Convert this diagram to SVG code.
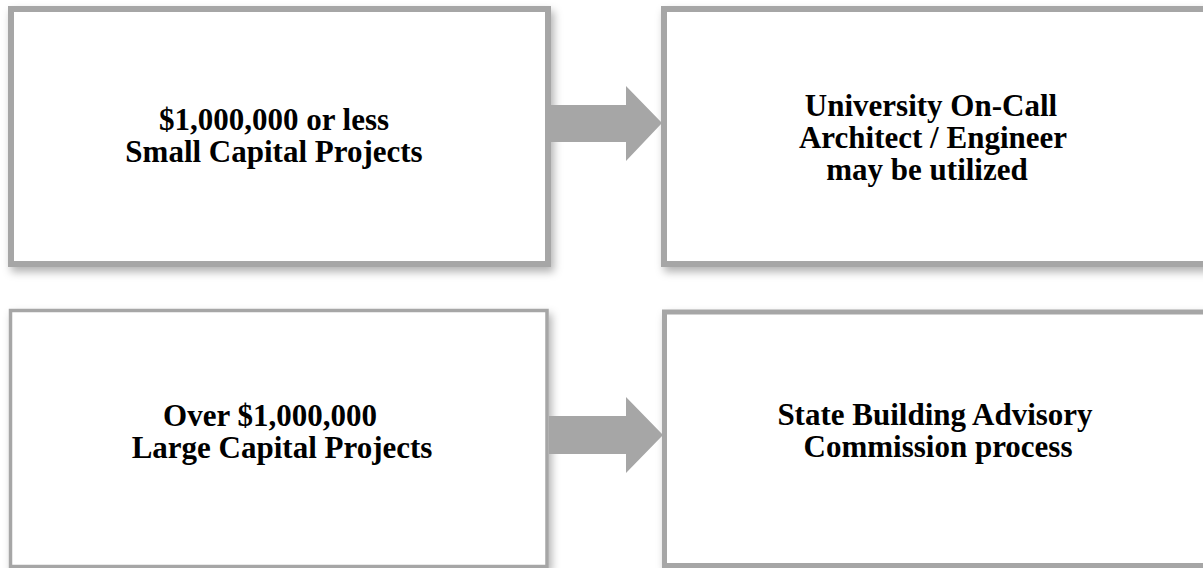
<svg xmlns="http://www.w3.org/2000/svg" width="1203" height="568" viewBox="0 0 1203 568">
<style>
.box{fill:#ffffff;stroke:#a6a6a6;filter:url(#sh)}
.t{font-family:"Liberation Serif","Times New Roman",serif;font-weight:bold;font-size:31px;fill:#000;text-anchor:middle}
.arrow{fill:#a6a6a6}
</style>
<defs>
<filter id="sh" x="-10%" y="-10%" width="125%" height="130%">
<feDropShadow dx="3" dy="5" stdDeviation="4" flood-color="#000" flood-opacity="0.3"/>
</filter>
</defs>
<rect width="1203" height="568" fill="#ffffff"/>
<g id="node-small">
<rect class="box" x="11" y="9" width="537" height="255" stroke-width="6"/>
<text class="t" x="274" y="130">$1,000,000 or less</text>
<text class="t" x="274" y="162">Small Capital Projects</text>
</g>
<g id="node-oncall">
<rect class="box" x="664" y="9" width="600" height="255" stroke-width="6"/>
<text class="t" x="931" y="116">University On-Call</text>
<text class="t" x="933" y="148">Architect / Engineer</text>
<text class="t" x="927" y="180">may be utilized</text>
</g>
<g id="node-large">
<rect class="box" x="10.5" y="310.5" width="536.5" height="256" stroke-width="3.5"/>
<text class="t" x="270" y="426">Over $1,000,000</text>
<text class="t" x="282" y="458">Large Capital Projects</text>
</g>
<g id="node-sbac">
<rect class="box" x="664.5" y="312" width="600" height="253.5" stroke-width="5"/>
<text class="t" x="935" y="425">State Building Advisory</text>
<text class="t" x="938" y="457">Commission process</text>
</g>
<g id="connectors">
<polygon class="arrow" points="551,105 626,105 626,86 662,123 626,161 626,142 551,142"/>
<polygon class="arrow" points="549,416 626,416 626,397 663,435 626,473 626,454 549,454"/>
</g>
</svg>
